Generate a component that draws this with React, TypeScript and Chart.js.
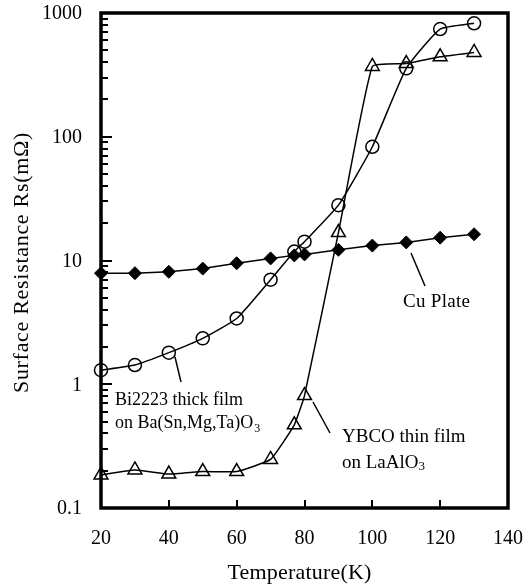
import React, { useEffect, useRef } from "react";
import { Chart, registerables } from "chart.js";
Chart.register(...registerables);

const temperatures = [20, 30, 40, 50, 60, 70, 77, 80, 90, 100, 110, 120, 130];
const cuPlate = [7.9, 7.9, 8.1, 8.6, 9.5, 10.4, 11.0, 11.2, 12.2, 13.2, 14.0, 15.3, 16.3];
const bi2223 = [1.3, 1.43, 1.8, 2.35, 3.4, 7.0, 11.8, 14.2, 28, 83, 357, 742, 826];
const ybco = [0.185, 0.203, 0.188, 0.197, 0.197, 0.247, 0.47, 0.81, 16.8, 370, 390, 443, 480];

const xTickValues = [20, 40, 60, 80, 100, 120, 140];
const yTickValues = [0.1, 1, 10, 100, 1000];
const yTickLabels = ["0.1", "1", "10", "100", "1000"];

const xTitle = "Temperature(K)";
const yTitle = "Surface Resistance Rs(m\u03A9)";

const FONT = '"Liberation Serif", "DejaVu Serif", serif';

function toPoints(ys: number[]) {
  return temperatures.map((t, i) => ({ x: t, y: ys[i] }));
}

function setSpacing(ctx: any, v: string) {
  if ("letterSpacing" in ctx) ctx.letterSpacing = v;
}

const axesPlugin = {
  id: "axesPlugin",
  beforeDatasetsDraw(chart: any) {
    const ctx = chart.ctx as CanvasRenderingContext2D;
    const { left, right, top, bottom } = chart.chartArea;
    const xs = chart.scales.x;
    const ys = chart.scales.y;
    ctx.save();
    ctx.strokeStyle = "#000";
    ctx.lineWidth = 2;
    for (let d = -1; d < 3; d++) {
      for (let m = 1; m <= 9; m++) {
        const v = m * Math.pow(10, d);
        const py = Math.round(ys.getPixelForValue(v));
        const len = m === 1 ? 11 : 7;
        ctx.beginPath();
        ctx.moveTo(left, py);
        ctx.lineTo(left + len, py);
        ctx.stroke();
      }
    }
    xTickValues.forEach((v) => {
      if (v === 20 || v === 140) return;
      const px = Math.round(xs.getPixelForValue(v));
      ctx.beginPath();
      ctx.moveTo(px, bottom);
      ctx.lineTo(px, bottom - 8);
      ctx.stroke();
    });
    ctx.lineWidth = 3.5;
    ctx.strokeRect(left, top, right - left, bottom - top);
    ctx.restore();
  },
  afterDraw(chart: any) {
    const ctx = chart.ctx as CanvasRenderingContext2D;
    const { left, right, top, bottom } = chart.chartArea;
    const xs = chart.scales.x;
    const ys = chart.scales.y;
    ctx.save();
    ctx.fillStyle = "#000";
    ctx.strokeStyle = "#000";
    ctx.font = `20px ${FONT}`;
    ctx.textAlign = "right";
    ctx.textBaseline = "middle";
    yTickValues.forEach((v, i) => {
      ctx.fillText(yTickLabels[i], left - 19, ys.getPixelForValue(v) + 1);
    });
    ctx.textAlign = "center";
    xTickValues.forEach((v) => {
      ctx.fillText(String(v), xs.getPixelForValue(v), bottom + 31);
    });
    ctx.font = `22px ${FONT}`;
    setSpacing(ctx, "0.2px");
    ctx.fillText(xTitle, (left + right) / 2 - 5, bottom + 65);
    ctx.save();
    ctx.translate(22, (top + bottom) / 2 + 2);
    ctx.rotate(-Math.PI / 2);
    setSpacing(ctx, "0.7px");
    ctx.fillText(yTitle, 0, 0);
    ctx.restore();
    setSpacing(ctx, "0px");

    ctx.lineWidth = 1.5;
    const line = (x1: number, y1: number, x2: number, y2: number) => {
      ctx.beginPath();
      ctx.moveTo(x1, y1);
      ctx.lineTo(x2, y2);
      ctx.stroke();
    };
    ctx.textAlign = "left";
    ctx.textBaseline = "alphabetic";

    // Cu Plate
    ctx.font = `19px ${FONT}`;
    setSpacing(ctx, "0.3px");
    ctx.fillText("Cu Plate", 403, 307);
    setSpacing(ctx, "0px");
    line(411, 253, 425, 286);

    // Bi2223
    ctx.font = `18px ${FONT}`;
    ctx.fillText("Bi2223 thick film", 115, 405);
    const t1 = "on Ba(Sn,Mg,Ta)O";
    ctx.fillText(t1, 115, 428);
    const w1 = ctx.measureText(t1).width;
    ctx.font = `12px ${FONT}`;
    ctx.fillText("3", 115 + w1 + 1, 432);
    line(175, 357, 181, 382);

    // YBCO
    ctx.font = `19px ${FONT}`;
    ctx.fillText("YBCO thin film", 342, 442);
    const t2 = "on LaAlO";
    ctx.fillText(t2, 342, 468);
    const w2 = ctx.measureText(t2).width;
    ctx.font = `13px ${FONT}`;
    ctx.fillText("3", 342 + w2, 470);
    line(313, 402, 330, 433);

    ctx.restore();
  },
};

export default function App() {
  const ref = useRef<HTMLCanvasElement>(null);
  useEffect(() => {
    const canvas = ref.current!;
    const chart = new Chart(canvas, {
      type: "line",
      data: {
        datasets: [
          {
            label: "Cu Plate",
            data: toPoints(cuPlate),
            borderColor: "#000",
            borderWidth: 1.5,
            pointStyle: "rectRot",
            pointRadius: 6.5,
            pointBackgroundColor: "#000",
            pointBorderColor: "#000",
            pointBorderWidth: 1,
            tension: 0,
            clip: false as any,
          },
          {
            label: "Bi2223 thick film on Ba(Sn,Mg,Ta)O3",
            data: toPoints(bi2223),
            borderColor: "#000",
            borderWidth: 1.5,
            pointStyle: "circle",
            pointRadius: 6.5,
            pointBackgroundColor: "rgba(0,0,0,0)",
            pointBorderColor: "#000",
            pointBorderWidth: 1.5,
            tension: 0.15,
            clip: false as any,
          },
          {
            label: "YBCO thin film on LaAlO3",
            data: toPoints(ybco),
            borderColor: "#000",
            borderWidth: 1.5,
            pointStyle: "triangle",
            pointRadius: 8,
            pointBackgroundColor: "rgba(0,0,0,0)",
            pointBorderColor: "#000",
            pointBorderWidth: 1.5,
            tension: 0.12,
            clip: false as any,
          },
        ],
      },
      options: {
        animation: false,
        responsive: false,
        devicePixelRatio: 1,
        layout: { padding: { left: 101, top: 13, right: 20, bottom: 77 } },
        plugins: { legend: { display: false }, tooltip: { enabled: false } },
        events: [],
        scales: {
          x: { type: "linear", min: 20, max: 140, display: false },
          y: { type: "logarithmic", min: 0.1, max: 1000, display: false },
        },
      },
      plugins: [axesPlugin],
    });
    return () => chart.destroy();
  }, []);
  return (
    <div style={{ position: "fixed", left: 0, top: 0, width: 528, height: 585, background: "#fff" }}>
      <canvas ref={ref} width={528} height={585} style={{ display: "block" }} />
    </div>
  );
}
